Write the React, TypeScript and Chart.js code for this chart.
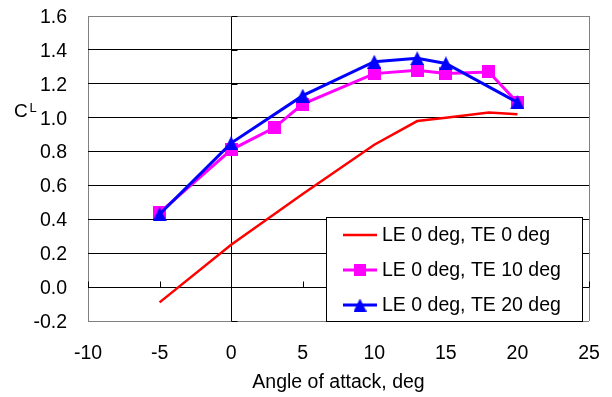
import { useEffect, useRef } from "react";
import { Chart, registerables } from "chart.js";

Chart.register(...registerables);

const X_TICKS = [-10, -5, 0, 5, 10, 15, 20, 25];
const Y_TICKS = [-0.2, 0, 0.2, 0.4, 0.6, 0.8, 1.0, 1.2, 1.4, 1.6];
const SERIES_NAMES = ["LE 0 deg, TE 0 deg", "LE 0 deg, TE 10 deg", "LE 0 deg, TE 20 deg"];

const TE0_X = [-5, 0, 5, 10, 13, 15, 18, 20];
const TE0_Y = [-0.09, 0.25, 0.55, 0.84, 0.98, 1.0, 1.03, 1.02];
const TE10_X = [-5, 0, 3, 5, 10, 13, 15, 18, 20];
const TE10_Y = [0.44, 0.81, 0.94, 1.08, 1.26, 1.28, 1.26, 1.27, 1.09];
const TE20_X = [-5, 0, 5, 10, 13, 15, 20];
const TE20_Y = [0.43, 0.85, 1.13, 1.33, 1.35, 1.32, 1.09];

const X_TITLE = "Angle of attack, deg";
const FONT = "'Liberation Sans', Arial, sans-serif";
const FS = 19.5;

function makeSquare(size: number, color: string) {
  const c = document.createElement("canvas");
  c.width = size;
  c.height = size;
  const g = c.getContext("2d")!;
  g.fillStyle = color;
  g.fillRect(0, 0, size, size);
  return c;
}
function makeTriangle(w: number, h: number, color: string) {
  const c = document.createElement("canvas");
  c.width = w;
  c.height = h;
  const g = c.getContext("2d")!;
  g.fillStyle = color;
  g.beginPath();
  g.moveTo(w / 2, 0);
  g.lineTo(w, h);
  g.lineTo(0, h);
  g.closePath();
  g.fill();
  return c;
}

export default function App() {
  const ref = useRef<HTMLCanvasElement>(null);
  useEffect(() => {
    const sq = makeSquare(13, "#FF00FF");
    const tri = makeTriangle(14, 14, "#0000FF");
    const sqL = makeSquare(12, "#FF00FF");
    const triL = makeTriangle(13, 13, "#0000FF");
    const legendMarks: any[] = [null, sqL, triL];

    const decor = {
      id: "decor",
      beforeDatasetsDraw(chart: any) {
        const { ctx, scales } = chart;
        const xs = scales.x, ys = scales.y;
        const x0 = Math.round(xs.getPixelForValue(0)) + 0.5;
        const y0 = Math.round(ys.getPixelForValue(0)) + 0.5;
        ctx.save();
        ctx.strokeStyle = "#000";
        ctx.lineWidth = 1;
        ctx.beginPath();
        X_TICKS.forEach((v) => {
          const px = Math.round(xs.getPixelForValue(v)) + 0.5;
          ctx.moveTo(px, y0);
          ctx.lineTo(px, y0 - 6);
        });
        Y_TICKS.forEach((v) => {
          const py = Math.round(ys.getPixelForValue(v)) + 0.5;
          ctx.moveTo(x0, py);
          ctx.lineTo(x0 + 6, py);
        });
        ctx.stroke();
        ctx.restore();
      },
      afterDatasetsDraw(chart: any) {
        const { ctx, chartArea } = chart;
        ctx.save();
        // CL label
        ctx.fillStyle = "#000";
        ctx.textBaseline = "alphabetic";
        ctx.textAlign = "left";
        ctx.font = `19px ${FONT}`;
        ctx.fillText("C", 14, 117);
        ctx.font = `13px ${FONT}`;
        ctx.fillText("L", 29.5, 112);
        // legend box
        const bx = Math.round(chartArea.right) - 6.5;
        const by = Math.round(chartArea.bottom) + 0.5;
        const left = 326.5, top = 217.5;
        ctx.fillStyle = "#fff";
        ctx.fillRect(left, top, bx - left, by - top);
        ctx.strokeStyle = "#000";
        ctx.lineWidth = 1;
        ctx.strokeRect(left, top, bx - left, by - top);
        const rows = [235, 270, 305];
        chart.data.datasets.forEach((ds: any, i: number) => {
          const ry = rows[i];
          ctx.strokeStyle = ds.borderColor;
          ctx.lineWidth = ds.borderWidth;
          ctx.beginPath();
          ctx.moveTo(343, ry);
          ctx.lineTo(377, ry);
          ctx.stroke();
          const m = legendMarks[i];
          if (m) ctx.drawImage(m, 360 - m.width / 2, ry - m.height / 2);
          ctx.fillStyle = "#000";
          ctx.font = `${FS}px ${FONT}`;
          ctx.textBaseline = "middle";
          ctx.fillText(ds.label, 382, ry + 1);
        });
        ctx.restore();
      },
    };

    const toPts = (xs: number[], ys: number[]) => xs.map((x, i) => ({ x, y: ys[i] }));

    const chart = new Chart(ref.current!, {
      type: "scatter",
      data: {
        datasets: [
          {
            label: SERIES_NAMES[0],
            data: toPts(TE0_X, TE0_Y),
            showLine: true,
            borderColor: "#FF0000",
            backgroundColor: "#FF0000",
            borderWidth: 2.5,
            pointRadius: 0,
            order: 3,
          },
          {
            label: SERIES_NAMES[1],
            data: toPts(TE10_X, TE10_Y),
            showLine: true,
            borderColor: "#FF00FF",
            backgroundColor: "#FF00FF",
            borderWidth: 3,
            pointStyle: sq as any,
            pointRadius: 7,
            order: 2,
          },
          {
            label: SERIES_NAMES[2],
            data: toPts(TE20_X, TE20_Y),
            showLine: true,
            borderColor: "#0000FF",
            backgroundColor: "#0000FF",
            borderWidth: 3,
            pointStyle: tri as any,
            pointRadius: 7,
            order: 1,
          },
        ],
      },
      options: {
        responsive: false,
        animation: false,
        events: [],
        layout: { padding: { top: 16, right: 23, left: 0, bottom: 0 } },
        plugins: { legend: { display: false }, tooltip: { enabled: false } },
        scales: {
          x: {
            type: "linear",
            min: -10,
            max: 25,
            afterBuildTicks: (s: any) => {
              s.ticks = X_TICKS.map((v) => ({ value: v }));
            },
            afterFit: (s: any) => {
              s.height = 76;
              s.paddingLeft = 0;
              s.paddingRight = 0;
            },
            grid: {
              drawTicks: false,
              lineWidth: 1,
              color: (c: any) => {
                const v = c.tick?.value;
                if (v === 0) return "#000";
                if (v === -10 || v === 25) return "#808080";
                return "rgba(0,0,0,0)";
              },
            },
            border: { display: false },
            ticks: {
              padding: 21,
              color: "#000",
              font: { family: FONT, size: FS },
              callback: (v: any) => String(v),
            },
            title: {
              display: true,
              text: X_TITLE,
              color: "#000",
              font: { family: FONT, size: FS },
              padding: { top: 0, bottom: 3 },
            },
          },
          y: {
            type: "linear",
            min: -0.2,
            max: 1.6,
            afterBuildTicks: (s: any) => {
              s.ticks = Y_TICKS.map((v) => ({ value: v }));
            },
            afterFit: (s: any) => {
              s.width = 88;
              s.paddingTop = 0;
              s.paddingBottom = 0;
            },
            grid: {
              drawTicks: false,
              lineWidth: 1,
              color: (c: any) => {
                const v = c.tick?.value;
                if (v === -0.2 || v === 1.6) return "#808080";
                return "#000";
              },
            },
            border: { display: false },
            ticks: {
              padding: 21,
              labelOffset: 1.5,
              color: "#000",
              font: { family: FONT, size: FS },
              callback: (v: any) => Number(v).toFixed(1),
            },
          },
        },
      },
      plugins: [decor],
    });
    return () => chart.destroy();
  }, []);

  return (
    <div style={{ position: "absolute", left: 0, top: 0, width: 612, height: 397, background: "#fff" }}>
      <canvas ref={ref} width={612} height={397} style={{ display: "block" }} />
    </div>
  );
}
